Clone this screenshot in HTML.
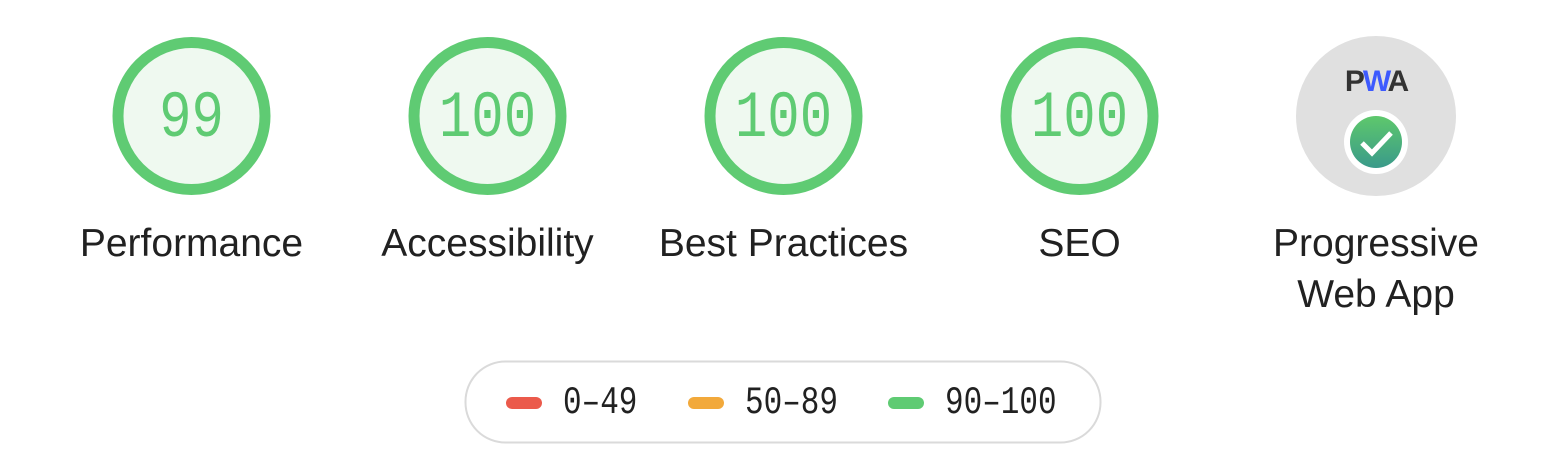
<!DOCTYPE html>
<html><head><meta charset="utf-8"><style>
body{margin:0;width:1552px;height:464px;background:#fff;overflow:hidden;font-family:"Liberation Sans",sans-serif}
svg{display:block}
</style></head><body>
<svg width="1552" height="464">
<g id="gauges"></g>
<g id="pwa">
<circle cx="1376" cy="116" r="80" fill="#e0e0e0"/>
<text x="1376" y="91" text-anchor="middle" font-family="Liberation Sans" font-weight="bold" font-size="30" fill="#333" letter-spacing="-2">P<tspan fill="#3d5afe">W</tspan>A</text>
<defs><linearGradient id="cg" x1="0" y1="0" x2="0" y2="1"><stop offset="0" stop-color="#5ec86c"/><stop offset="1" stop-color="#3a9a8a"/></linearGradient></defs>
<circle cx="1376" cy="142" r="32" fill="#fff"/>
<circle cx="1376" cy="142" r="26" fill="url(#cg)"/>
<path d="M1362 143 L1372 153 L1391 133" stroke="#fff" stroke-width="5" fill="none"/>
<text x="1376" y="256" text-anchor="middle" font-size="39" fill="#212121">Progressive</text>
<text x="1376" y="307" text-anchor="middle" font-size="39" fill="#212121">Web App</text>
</g>
<g>
<rect x="465.5" y="361.5" width="635" height="81" rx="40" fill="#fff" stroke="#dadada" stroke-width="2"/>
<g id="legend"></g>
</g>
</svg>
<script>
const categories=["Performance","Accessibility","Best Practices","SEO"];
const scores=[99,100,100,100];
const legendLabels=["0–49","50–89","90–100"];
const legendColors=["#eb5a4b","#f2a93b","#5fcb73"];
const NS="http://www.w3.org/2000/svg";
function mk(t,a,p){const e=document.createElementNS(NS,t);for(const k in a)e.setAttribute(k,a[k]);p.appendChild(e);return e;}
const g=document.getElementById('gauges');
const cx=i=>191.5+i*296;
categories.forEach((c,i)=>{
  const gg=mk('g',{},g);
  
  
  const col=scores[i]>=90?"#5fcb73":scores[i]>=50?"#f2a93b":"#eb5a4b";
  mk('circle',{cx:cx(i),cy:116,r:73.5,fill:"#eff9f0",stroke:col,"stroke-width":11},gg);
  const t=mk('text',{x:0,y:0,"text-anchor":"middle","font-family":"Liberation Mono, DejaVu Sans Mono, monospace","font-size":54,fill:col,transform:`translate(${cx(i)},136) scale(1,1.22)`},gg);
  t.textContent=scores[i];
  
  
  const l=mk('text',{x:cx(i),y:256,"text-anchor":"middle","font-size":39,fill:"#212121"},gg);
  l.textContent=c;
  
  
});
const lg=document.getElementById('legend');
const lx=[506,688,888];
legendLabels.forEach((s,i)=>{
  const e=mk('g',{},lg);
  
  
  mk('rect',{x:lx[i],y:397,width:36,height:12,rx:6,fill:legendColors[i]},e);
  const t=mk('text',{x:0,y:0,"font-family":"Liberation Mono, monospace","font-size":31,fill:"#212121",transform:`translate(${lx[i]+57},413) scale(1,1.25)`},e);
  t.textContent=s;
});
</script>
</body></html>
